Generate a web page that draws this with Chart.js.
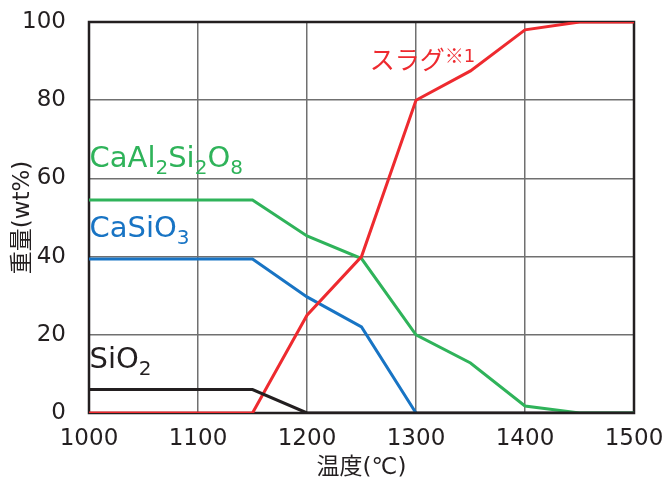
<!DOCTYPE html>
<html>
<head>
<meta charset="utf-8">
<script src="https://cdn.jsdelivr.net/npm/chart.js@4"></script>
<style>
  html, body { margin: 0; padding: 0; background: #fff; }
  #wrap { width: 663px; height: 482px; }
</style>
</head>
<body>
<div id="wrap"><canvas id="chart" width="663" height="482"></canvas></div>
<script>
// temperatures (°C) where values were read
const temps = [1000, 1150, 1200, 1250, 1300, 1350, 1400, 1450, 1500];
// weight % per phase
const slag = [0, 0, 25, 40, 80, 87.5, 98, 100, 100];
const anorthite = [54.5, 54.5, 45.3, 39.5, 20, 12.8, 1.8, 0, 0];   // CaAl2Si2O8
const wollastonite = [39.4, 39.4, 29.7, 22, 0, null, null, null, null]; // CaSiO3
const silica = [6, 6, 0, 0, 0, 0, 0, 0, 0]; // SiO2

const xTicks = [1000, 1100, 1200, 1300, 1400, 1500];
const yTicks = [0, 20, 40, 60, 80, 100];

const RED = "#ee2a2f";
const GREEN = "#2fb35a";
const BLUE = "#1874c4";
const BLACK = "#231f20";
const GRID = "#707070";

const LATIN = "'DejaVu Sans', 'Noto Sans CJK JP', sans-serif";
const CJK = "'Noto Sans CJK JP', 'Noto Sans', sans-serif";

function toPoints(vals) {
  return temps.map((t, i) => ({ x: t, y: vals[i] }));
}

// text labels placed in data coordinates; parts: [text, kind]
const seriesLabels = [
  { x: 1000.5, y: 62.9, color: GREEN, parts: [["CaAl", 0], ["2", 1], ["Si", 0], ["2", 1], ["O", 0], ["8", 1]] },
  { x: 1000.5, y: 45, color: BLUE, parts: [["CaSi", 0], ["O", 0], ["3", 1]] },
  { x: 1000.5, y: 11.5, color: BLACK, parts: [["Si", 0], ["O", 0], ["2", 1]] },
  { x: 1257.5, y: 88, color: RED, parts: [["スラグ", 2], ["※", 3], ["1", 4]] }
];

const partStyle = [
  { font: "29px " + LATIN, dy: 0 },
  { font: "20px " + LATIN, dy: 7 },
  { font: "25px " + CJK, dy: 0 },
  { font: "19px " + CJK, dy: -6 },
  { font: "18px " + LATIN, dy: -7 }
];

const labelPlugin = {
  id: "seriesLabels",
  afterDatasetsDraw(chart) {
    const ctx = chart.ctx;
    const xs = chart.scales.x, ys = chart.scales.y;
    ctx.save();
    ctx.textBaseline = "alphabetic";
    ctx.textAlign = "left";
    seriesLabels.forEach(lab => {
      let px = xs.getPixelForValue(lab.x);
      const py = ys.getPixelForValue(lab.y);
      ctx.fillStyle = lab.color;
      lab.parts.forEach(([txt, kind]) => {
        const st = partStyle[kind];
        ctx.font = st.font;
        ctx.fillText(txt, px, py + st.dy);
        px += ctx.measureText(txt).width;
      });
    });
    ctx.restore();
  }
};

// frame drawn under the lines, like the original
const framePlugin = {
  id: "frame",
  beforeDatasetsDraw(chart) {
    const { ctx, chartArea: a } = chart;
    ctx.save();
    ctx.strokeStyle = BLACK;
    ctx.lineWidth = 2.5;
    ctx.strokeRect(a.left, a.top, a.right - a.left, a.bottom - a.top);
    ctx.restore();
  }
};

const lineStyle = { borderWidth: 3, pointRadius: 0, tension: 0, fill: false, spanGaps: false };

new Chart(document.getElementById("chart"), {
  type: "line",
  data: {
    datasets: [
      { label: "SiO2", data: toPoints(silica), borderColor: BLACK, ...lineStyle },
      { label: "スラグ", data: toPoints(slag), borderColor: RED, ...lineStyle },
      { label: "CaAl2Si2O8", data: toPoints(anorthite), borderColor: GREEN, ...lineStyle },
      { label: "CaSiO3", data: toPoints(wollastonite), borderColor: BLUE, ...lineStyle }
    ]
  },
  options: {
    responsive: false,
    animation: false,
    events: [],
    layout: { padding: { top: 22, right: 29, left: 0, bottom: 0 } },
    plugins: { legend: { display: false }, tooltip: { enabled: false } },
    scales: {
      x: {
        type: "linear",
        min: 1000,
        max: 1500,
        afterBuildTicks(scale) { scale.ticks = xTicks.map(v => ({ value: v })); },
        afterFit(scale) { scale.height = 69; scale.paddingLeft = 0; scale.paddingRight = 0; },
        grid: { color: GRID, lineWidth: 1.5, drawTicks: false },
        border: { display: false },
        ticks: {
          color: BLACK, padding: 12, maxRotation: 0,
          callback: v => String(v),
          font: { size: 23, family: "'DejaVu Sans', sans-serif" }
        },
        title: {
          display: true, text: "温度(℃)", color: BLACK,
          padding: { top: 0, bottom: 0 },
          font: { size: 23, family: LATIN }
        }
      },
      y: {
        min: 0,
        max: 100,
        afterBuildTicks(scale) { scale.ticks = yTicks.map(v => ({ value: v })); },
        afterFit(scale) { scale.width = 89; scale.paddingTop = 0; scale.paddingBottom = 0; },
        grid: { color: GRID, lineWidth: 1.5, drawTicks: false },
        border: { display: false },
        ticks: { color: BLACK, padding: 23, font: { size: 23, family: "'DejaVu Sans', sans-serif" } },
        title: {
          display: true, text: "重量(wt%)", color: BLACK,
          padding: { top: 9, bottom: 0 },
          font: { size: 23, family: LATIN }
        }
      }
    }
  },
  plugins: [framePlugin, labelPlugin]
});
</script>
</body>
</html>
